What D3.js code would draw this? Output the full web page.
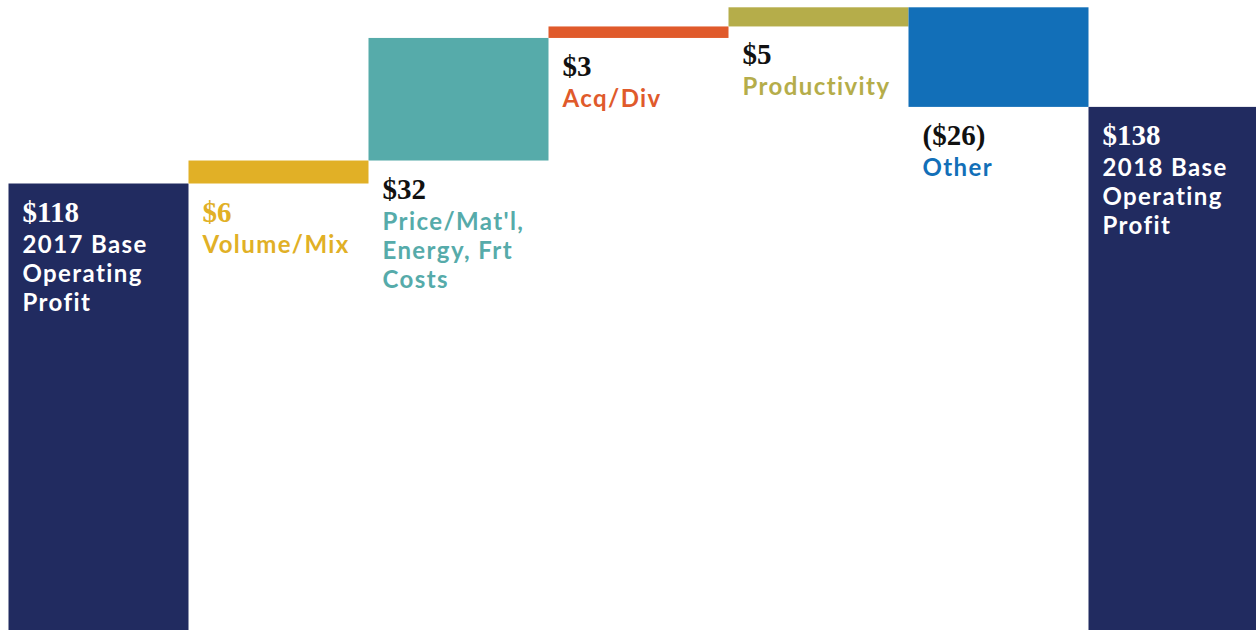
<!DOCTYPE html>
<meta charset="utf-8">
<style>
body { margin: 0; background: #fff; }
.value { font-family: "Liberation Serif", serif; font-weight: bold; font-size: 29px; }
.cat { font-family: Lato, sans-serif; font-weight: bold; font-size: 24px; letter-spacing: 1.4px; font-variant-ligatures: none; }
</style>
<body>
<script src="https://d3js.org/d3.v7.min.js"></script>
<script>

// chart data
var categories = ["2017 Base", "Volume/Mix", "Price/Mat'l", "Acq/Div", "Productivity", "Other", "2018 Base"];
var labelLines = [
  ["2017 Base", "Operating", "Profit"],
  ["Volume/Mix"],
  ["Price/Mat'l,", "Energy, Frt", "Costs"],
  ["Acq/Div"],
  ["Productivity"],
  ["Other"],
  ["2018 Base", "Operating", "Profit"]
];
var values = [118, 6, 32, 3, 5, -26, 138];
var isTotal = [true, false, false, false, false, false, true];

// styles
var barColors = ["#212b60", "#e1b026", "#56abaa", "#e05a2b", "#b5ad4a", "#126fb8", "#212b60"];
var valueColors = ["#ffffff", "#e1b026", "#111111", "#111111", "#111111", "#111111", "#ffffff"];
var catColors = ["#ffffff", "#e1b026", "#56abaa", "#e05a2b", "#b5ad4a", "#126fb8", "#ffffff"];

var width = 1256, height = 630;

// running totals -> bar extents
var running = 0;
var bars = values.map(function(v, i) {
  var b;
  if (isTotal[i]) { b = {lo: 0, hi: v}; running = v; }
  else { b = {lo: Math.min(running, running + v), hi: Math.max(running, running + v)}; running += v; }
  b.i = i; b.value = v; b.cat = categories[i];
  return b;
});

var x = d3.scaleBand()
    .domain(categories)
    .range([8.5, 8.5 + 180 * categories.length])
    .padding(0);

var y = d3.scaleLinear()
    .domain([0, d3.max(bars, function(d) { return d.hi; })])
    .range([635.5, 7.3]);

var svg = d3.select("body").append("svg")
    .attr("width", width)
    .attr("height", height);

svg.selectAll("rect.bar")
    .data(bars)
  .enter().append("rect")
    .attr("class", "bar")
    .attr("x", function(d) { return x(d.cat); })
    .attr("y", function(d) { return y(d.hi); })
    .attr("width", x.bandwidth())
    .attr("height", function(d) { return y(d.lo) - y(d.hi); })
    .style("fill", function(d) { return barColors[d.i]; });

function fmt(v) {
  return v < 0 ? "($" + Math.abs(v) + ")" : "$" + v;
}

// labels: inside totals (from top), below deltas
var labels = svg.selectAll("g.label")
    .data(bars)
  .enter().append("g")
    .attr("class", "label")
    .attr("transform", function(d) {
      var base = isTotal[d.i] ? y(d.hi) : y(d.lo);
      return "translate(" + (x(d.cat) + 14) + "," + (base + 38) + ")";
    });

labels.append("text")
    .attr("class", "value")
    .style("fill", function(d) { return valueColors[d.i]; })
    .text(function(d) { return fmt(d.value); });

labels.each(function(d) {
  var g = d3.select(this);
  labelLines[d.i].forEach(function(line, k) {
    g.append("text")
        .attr("class", "cat")
        .attr("y", 31 + k * 29)
        .style("fill", catColors[d.i])
        .text(line);
  });
});

</script>
</body>
